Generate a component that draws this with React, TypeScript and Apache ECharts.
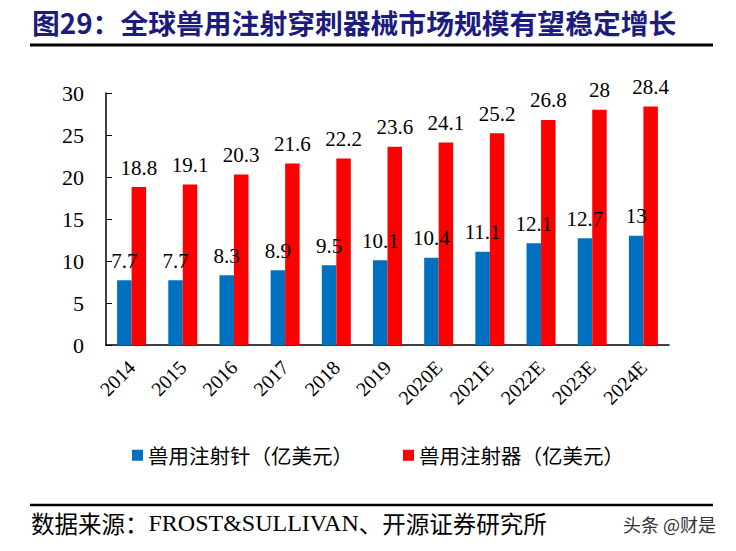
import React, { useEffect, useRef } from "react";
import * as echarts from "echarts";

const categories = ["2014", "2015", "2016", "2017", "2018", "2019", "2020E", "2021E", "2022E", "2023E", "2024E"];
const needleValues = [7.7, 7.7, 8.3, 8.9, 9.5, 10.1, 10.4, 11.1, 12.1, 12.7, 13];
const syringeValues = [18.8, 19.1, 20.3, 21.6, 22.2, 23.6, 24.1, 25.2, 26.8, 28, 28.4];
const seriesNames = ["兽用注射针（亿美元）", "兽用注射器（亿美元）"];
const titleText = "图29：全球兽用注射穿刺器械市场规模有望稳定增长";
const sourcePrefix = "数据来源：";
const sourceLatin = "FROST&SULLIVAN";
const sourceSuffix = "、开源证券研究所";
const watermarkText = "头条 @财是";

const SERIF = "'Liberation Serif', 'Times New Roman', serif";
const CJK = "'Noto Sans CJK SC', sans-serif";

export default function App() {
  const ref = useRef<HTMLDivElement>(null);
  useEffect(() => {
    document.body.style.margin = "0";
    const chart = echarts.init(ref.current!, null, { renderer: "svg" });
    const labelStyle = {
      show: true,
      position: "top" as const,
      distance: 9,
      fontFamily: SERIF,
      fontSize: 21,
      color: "#000",
    };
    chart.setOption({
      animation: false,
      backgroundColor: "#fff",
      grid: { left: 106, right: 67, top: 93, bottom: 206, containLabel: false },
      legend: {
        top: 440,
        left: 127,
        itemWidth: 11,
        itemHeight: 11,
        itemGap: 50,
        icon: "rect",
        textStyle: { fontFamily: CJK, fontSize: 20.5, color: "#000" },
        data: seriesNames,
      },
      xAxis: {
        type: "category",
        data: categories,
        axisLine: { lineStyle: { color: "#000", width: 1.5 } },
        axisTick: { inside: true, length: 6, lineStyle: { color: "#000" } },
        axisLabel: {
          rotate: 45,
          margin: 19,
          fontFamily: SERIF,
          fontSize: 20,
          color: "#000",
          interval: 0,
        },
      },
      yAxis: {
        type: "value",
        min: 0,
        max: 30,
        interval: 5,
        splitLine: { show: false },
        axisLine: { show: true, lineStyle: { color: "#000", width: 1.5 } },
        axisTick: { show: true, inside: true, length: 6, lineStyle: { color: "#000" } },
        axisLabel: { fontFamily: SERIF, fontSize: 22, color: "#000", margin: 22 },
      },
      series: [
        {
          name: seriesNames[0],
          type: "bar",
          data: needleValues,
          barWidth: 14.5,
          barGap: "0%",
          itemStyle: { color: "#0070C0" },
          label: labelStyle,
        },
        {
          name: seriesNames[1],
          type: "bar",
          data: syringeValues,
          barWidth: 14.5,
          barGap: "0%",
          itemStyle: { color: "#FF0000" },
          label: labelStyle,
        },
      ],
      graphic: [
        {
          type: "text",
          left: 32,
          top: 8,
          style: {
            text: titleText,
            fontFamily: CJK,
            fontWeight: "bold",
            fontSize: 27.8,
            fill: "#1C1C7E",
          },
        },
        {
          type: "line",
          shape: { x1: 30, y1: 45, x2: 713, y2: 45 },
          style: { stroke: "#000", lineWidth: 3 },
        },
        {
          type: "line",
          shape: { x1: 30, y1: 505, x2: 713, y2: 505 },
          style: { stroke: "#000", lineWidth: 2.5 },
        },
        {
          type: "text",
          left: 31,
          top: 511,
          style: {
            text: `{c|${sourcePrefix}}{l|${sourceLatin}}{c|${sourceSuffix}}`,
            rich: {
              c: { fontFamily: CJK, fontSize: 23.5, fill: "#000" },
              l: { fontFamily: SERIF, fontSize: 24, fill: "#000" },
            },
          },
        },
        {
          type: "text",
          left: 623,
          top: 515,
          style: {
            text: watermarkText,
            fontFamily: CJK,
            fontSize: 18,
            fill: "#333",
          },
        },
      ],
    });
    return () => chart.dispose();
  }, []);
  return <div ref={ref} style={{ width: 736, height: 551 }} />;
}
